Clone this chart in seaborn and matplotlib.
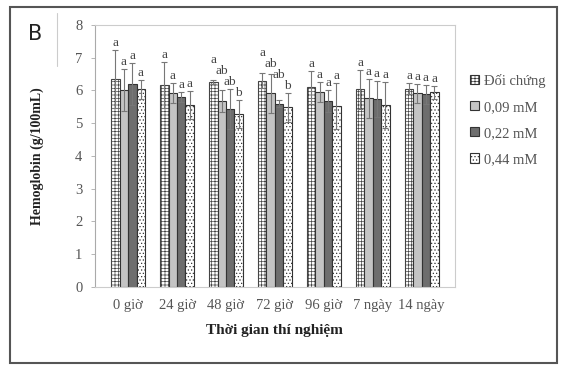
import matplotlib
matplotlib.use("Agg")
import matplotlib.pyplot as plt
import seaborn as sns
import pandas as pd
import numpy as np
from matplotlib.patches import Rectangle
from matplotlib.lines import Line2D

times = ["0 giờ", "24 giờ", "48 giờ", "72 giờ", "96 giờ", "7 ngày", "14 ngày"]
groups = ["Đối chứng", "0,09 mM", "0,22 mM", "0,44 mM"]
doi_chung = [6.35, 6.17, 6.25, 6.30, 6.10, 6.03, 6.05]
mm009 = [6.01, 5.93, 5.68, 5.91, 5.96, 5.76, 5.91]
mm022 = [6.19, 5.81, 5.43, 5.60, 5.68, 5.73, 5.88]
mm044 = [6.03, 5.56, 5.28, 5.48, 5.53, 5.56, 5.94]
err_doi = [0.90, 0.70, 0.06, 0.22, 0.50, 0.60, 0.17]
err_009 = [0.64, 0.30, 0.34, 0.60, 0.30, 0.60, 0.30]
err_022 = [0.64, 0.15, 0.60, 0.10, 0.34, 0.55, 0.30]
err_044 = [0.30, 0.42, 0.43, 0.43, 0.70, 0.70, 0.20]
let_doi = ["a", "a", "a", "a", "a", "a", "a"]
let_009 = ["a", "a", "ab", "ab", "a", "a", "a"]
let_022 = ["a", "a", "ab", "ab", "a", "a", "a"]
let_044 = ["a", "a", "b", "b", "a", "a", "a"]

values = [doi_chung, mm009, mm022, mm044]
errors = [err_doi, err_009, err_022, err_044]
letters = [let_doi, let_009, let_022, let_044]

df = pd.DataFrame({
    "time": np.tile(times, len(groups)),
    "group": np.repeat(groups, len(times)),
    "val": np.concatenate(values),
})

sns.set_style("white")
plt.rcParams["font.family"] = ["Liberation Serif", "DejaVu Serif"]
plt.rcParams["hatch.linewidth"] = 0.5

fig = plt.figure(figsize=(5.61, 3.67), dpi=100)
ax = fig.add_axes([0.169, 0.218, 0.642, 0.714])

colors = ["#ffffff", "#c4c4c4", "#6e6e6e", "#ffffff"]
hatches = ["+++++", "", "", "....."]
sns.barplot(data=df, x="time", y="val", hue="group", order=times, hue_order=groups,
            palette=colors, errorbar=None, width=0.69, ax=ax, legend=False,
            edgecolor="#333333", linewidth=0.8)

bar_containers = list(ax.containers)
for gi, cont in enumerate(bar_containers):
    for ti, p in enumerate(cont.patches):
        p.set_hatch(hatches[gi])
        if gi == 0:
            p.set_edgecolor("#444444")
        x = p.get_x() + p.get_width() / 2
        h = p.get_height()
        e = errors[gi][ti]
        ax.errorbar(x, h, yerr=e, fmt="none", ecolor="#777777", elinewidth=0.8,
                    capsize=2.2, capthick=0.8, zorder=3)

# significance letters, staggered upward (right to left) where labels would collide
ng = len(bar_containers)
for ti in range(len(times)):
    y_next = None
    for gi in range(ng - 1, -1, -1):
        p = bar_containers[gi].patches[ti]
        x = p.get_x() + p.get_width() / 2
        y = p.get_height() + errors[gi][ti] + 0.03
        if y_next is not None and (len(letters[gi][ti]) > 1 or len(letters[gi + 1][ti]) > 1):
            y = max(y, y_next + 0.34)
        ax.text(x, y, letters[gi][ti], ha="center", va="bottom",
                fontsize=9.5, color="#444444")
        y_next = y

ax.set_ylim(0, 8)
ax.set_yticks(range(0, 9))
ax.tick_params(axis="both", labelsize=10.5, colors="#555555", length=3)
ax.tick_params(axis="x", length=0, pad=9)
ax.tick_params(axis="y", left=True, width=0.6, color="#aaaaaa", pad=6)
for lab in ax.get_xticklabels() + ax.get_yticklabels():
    lab.set_color("#555555")
for s in ax.spines.values():
    s.set_color("#cccccc")
    s.set_linewidth(0.8)
ax.spines["left"].set_color("#aaaaaa")
ax.set_xlabel("Thời gian thí nghiệm", fontsize=11, fontweight="bold", color="#222222", labelpad=8)
ax.set_ylabel("Hemoglobin (g/100mL)", fontsize=10, fontweight="bold", color="#222222", labelpad=22)

handles = [Rectangle((0, 0), 1, 1, facecolor=colors[i], edgecolor="#333333",
                     hatch=hatches[i], linewidth=0.8) for i in range(4)]
fig.legend(handles, groups, loc="upper left", bbox_to_anchor=(0.815, 0.835),
           frameon=False, fontsize=10.5, handlelength=0.6, handleheight=0.6,
           handletextpad=0.35, labelspacing=0.9, labelcolor="#555555")

fig.text(0.05, 0.89, "B", fontsize=15, family="DejaVu Sans", color="#222222")
fig.add_artist(Line2D([0.102, 0.102], [0.82, 0.965], color="#cccccc", lw=0.8))
fig.add_artist(Rectangle((0.018, 0.012), 0.975, 0.968, fill=False,
                         edgecolor="#555555", lw=1.5, transform=fig.transFigure))

fig.savefig("out.png", dpi=100)
